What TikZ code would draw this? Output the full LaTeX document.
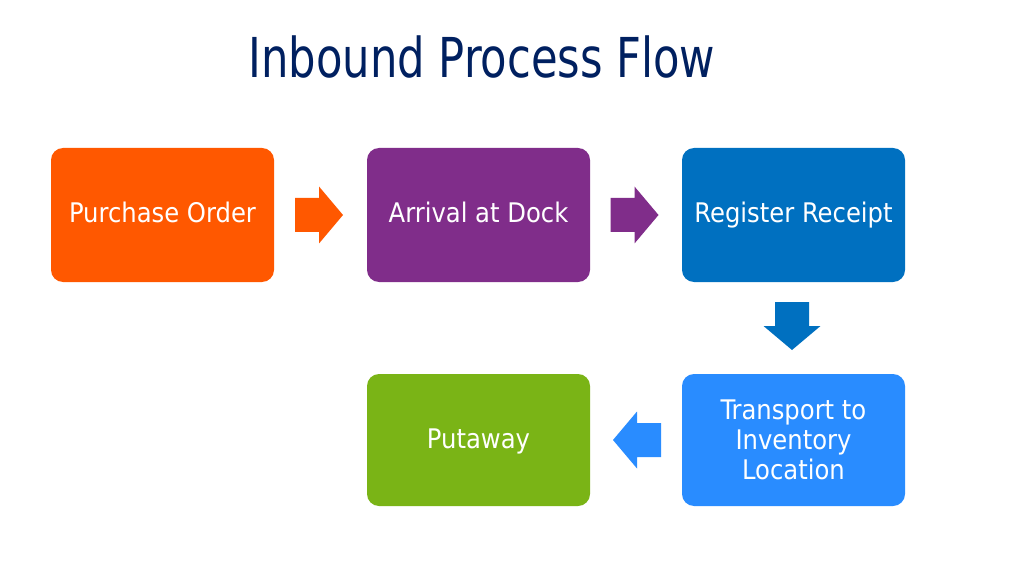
\documentclass[tikz,border=0pt]{standalone}
\usepackage{fontspec}
\setmainfont{DejaVu Sans Condensed}
\newfontfamily\titlefont{DejaVu Sans Condensed}[FakeStretch=0.875]
\usetikzlibrary{calc}
\definecolor{titleblue}{RGB}{0,32,96}
\definecolor{cOrange}{RGB}{255,88,0}
\definecolor{cPurple}{RGB}{128,45,138}
\definecolor{cBlue}{RGB}{0,112,192}
\definecolor{cLight}{RGB}{41,140,255}
\definecolor{cGreen}{RGB}{122,180,22}
\newcommand\blockarrow[3]{% colour, centre coordinate, angle
  \fill[#1, shift={(#2)}, rotate=#3] (-24,-17) -- (0,-17) -- (0,-28.5) -- (24,0) -- (0,28.5) -- (0,17) -- (-24,17) -- cycle;}
\begin{document}
\begin{tikzpicture}[x=1pt,y=-1pt,
  box/.style={rounded corners=12pt, minimum width=223pt, minimum height=134pt,
    text=white, font=\fontsize{27}{30}\selectfont, align=center, inner sep=0pt},
  oneline/.style={text height=19pt, text depth=3pt}]
\useasboundingbox[fill=white] (0,0) rectangle (1035,561);
\node[text=titleblue, font=\titlefont\fontsize{55}{60}\selectfont, anchor=base] (title) at (482,78) {Inbound Process Flow};
\node[box, oneline, fill=cOrange] (po) at (162.5,215) {Purchase Order};
\node[box, oneline, fill=cPurple] (ad) at (478.5,215) {Arrival at Dock};
\node[box, oneline, fill=cBlue] (rr) at (793.5,215) {Register Receipt};
\node[box, fill=cLight, minimum height=132pt] (tr) at (793.5,440) {Transport to\\Inventory\\Location};
\node[box, oneline, fill=cGreen, minimum height=132pt] (pa) at (478.5,440) {Putaway};
\coordinate (m1) at ($(po.east)!0.5!(ad.west)+(-1.5,0)$);
\coordinate (m2) at ($(ad.east)!0.5!(rr.west)+(-1.5,0)$);
\coordinate (m3) at ($(rr.south)!0.5!(tr.north)+(-1.5,-2)$);
\coordinate (m4) at ($(tr.west)!0.5!(pa.east)+(1,0)$);
\blockarrow{cOrange}{m1}{0}
\blockarrow{cPurple}{m2}{0}
\blockarrow{cBlue}{m3}{-90}
\blockarrow{cLight}{m4}{180}
\end{tikzpicture}
\end{document}
